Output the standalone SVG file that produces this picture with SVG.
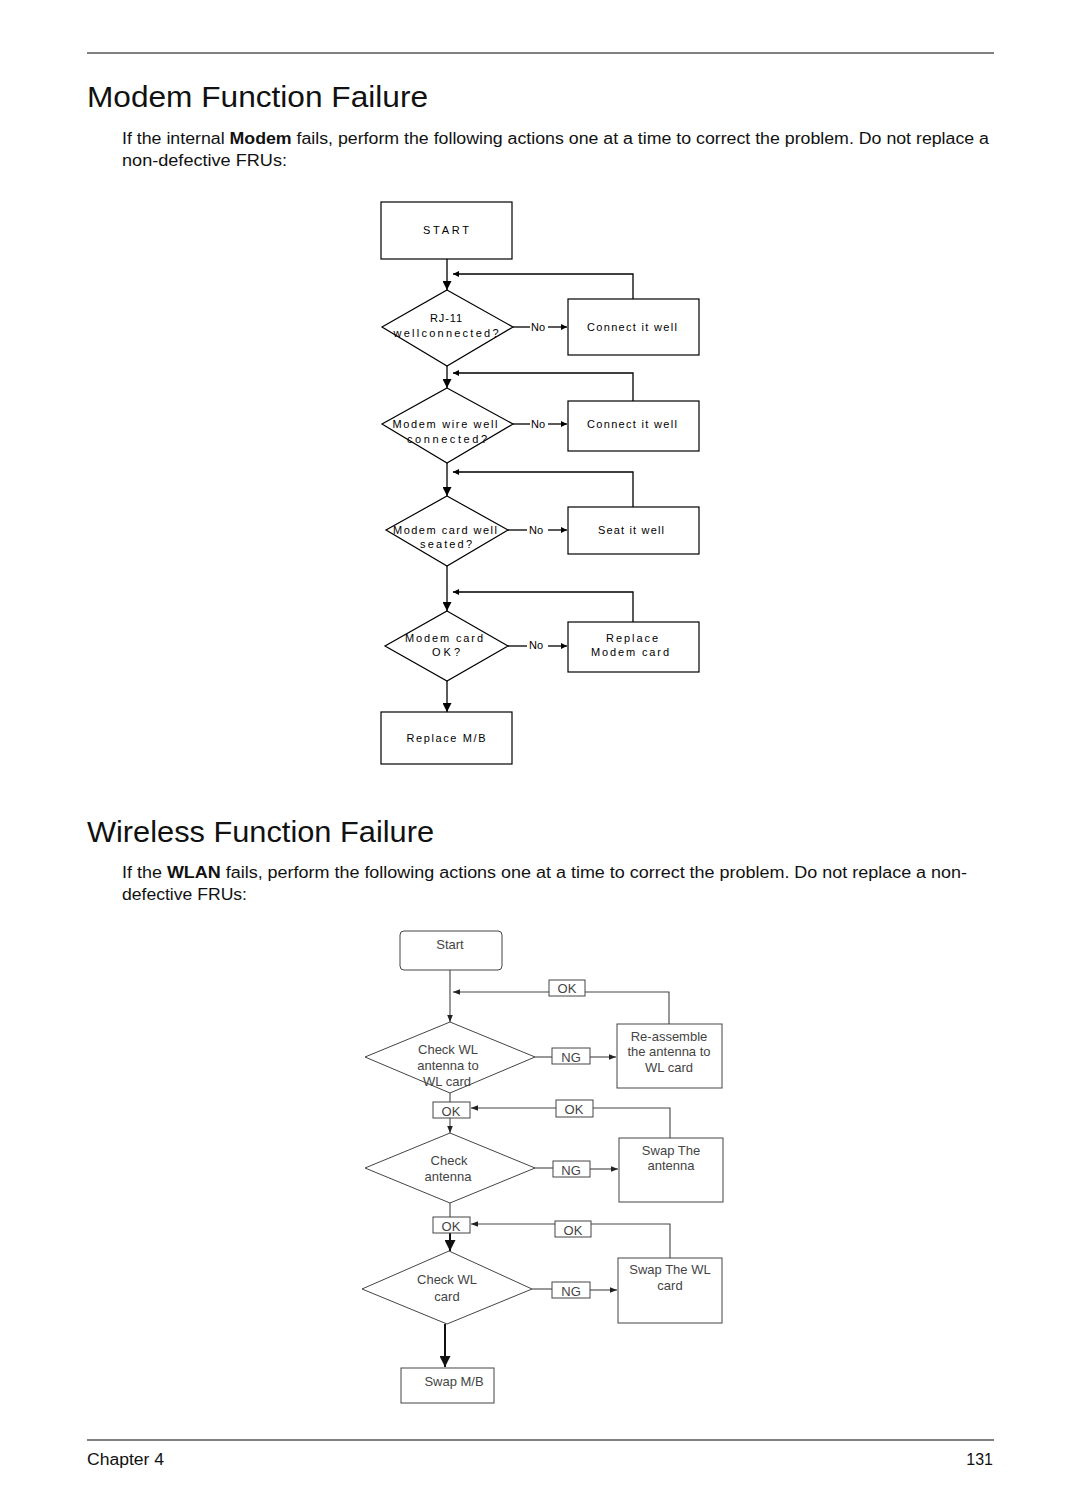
<svg xmlns="http://www.w3.org/2000/svg" width="1080" height="1512" viewBox="0 0 1080 1512">
<defs>
<style>
.rule{stroke:#808080;stroke-width:2;fill:none}
.title{font-family:"Liberation Sans",Arial,sans-serif;font-size:29px;fill:#111}
.para{font-family:"Liberation Sans",Arial,sans-serif;font-size:16px;fill:#111}
.foot{font-family:"Liberation Sans",Arial,sans-serif;font-size:16px;fill:#111}
.m-shape{fill:#fff;stroke:#000;stroke-width:1.2}
.m-line{fill:none;stroke:#000;stroke-width:1.3}
.m-txt{font-family:"Liberation Sans",Arial,sans-serif;font-size:11px;fill:#000;text-anchor:middle}
.w-shape{fill:#fff;stroke:#444;stroke-width:1}
.w-line{fill:none;stroke:#444;stroke-width:1.1}
.w-bold{fill:none;stroke:#111;stroke-width:2}
.w-txt{font-family:"Liberation Sans",Arial,sans-serif;font-size:13px;fill:#444;text-anchor:middle}
</style>
<marker id="mDown" markerUnits="userSpaceOnUse" markerWidth="9" markerHeight="9" viewBox="0 0 10 10" refX="10" refY="5" orient="auto"><path d="M0,0 L10,5 L0,10 z" fill="#000"/></marker>
<marker id="mSmall" markerUnits="userSpaceOnUse" markerWidth="6" markerHeight="6" viewBox="0 0 10 10" refX="10" refY="5" orient="auto"><path d="M0,0 L10,5 L0,10 z" fill="#000"/></marker>
<marker id="wSmall" markerUnits="userSpaceOnUse" markerWidth="7" markerHeight="7" viewBox="0 0 10 10" refX="10" refY="5" orient="auto"><path d="M0,1 L10,5 L0,9 z" fill="#222"/></marker>
<marker id="wBig" markerUnits="userSpaceOnUse" markerWidth="11" markerHeight="11" viewBox="0 0 10 10" refX="10" refY="5" orient="auto"><path d="M0,0 L10,5 L0,10 z" fill="#111"/></marker>
</defs>
<rect width="1080" height="1512" fill="#fff"/>

<g id="page">
<line class="rule" x1="87" y1="53" x2="994" y2="53"/>
<text class="title" x="87" y="107" textLength="341" lengthAdjust="spacingAndGlyphs">Modem Function Failure</text>
<text class="para" x="122" y="144" textLength="867" lengthAdjust="spacingAndGlyphs">If the internal <tspan font-weight="bold">Modem</tspan> fails, perform the following actions one at a time to correct the problem. Do not replace a</text>
<text class="para" x="122" y="166" textLength="165" lengthAdjust="spacingAndGlyphs">non-defective FRUs:</text>
<text class="title" x="87" y="842" textLength="347" lengthAdjust="spacingAndGlyphs">Wireless Function Failure</text>
<text class="para" x="122" y="878" textLength="845" lengthAdjust="spacingAndGlyphs">If the <tspan font-weight="bold">WLAN</tspan> fails, perform the following actions one at a time to correct the problem. Do not replace a non-</text>
<text class="para" x="122" y="900" textLength="125" lengthAdjust="spacingAndGlyphs">defective FRUs:</text>
<line class="rule" x1="87" y1="1440" x2="994" y2="1440"/>
<text class="foot" x="87" y="1465" textLength="77" lengthAdjust="spacingAndGlyphs">Chapter 4</text>
<text class="foot" x="993" y="1465" text-anchor="end">131</text>
</g>

<g id="modem-connectors">
<line class="m-line" x1="447" y1="259" x2="447" y2="290" marker-end="url(#mDown)"/>
<polyline class="m-line" points="633,299 633,274 453,274" marker-end="url(#mSmall)"/>
<line class="m-line" x1="513" y1="327" x2="530" y2="327"/>
<line class="m-line" x1="548" y1="327" x2="567" y2="327" marker-end="url(#mSmall)"/>
<line class="m-line" x1="447" y1="366" x2="447" y2="388" marker-end="url(#mDown)"/>
<polyline class="m-line" points="633,401 633,373 453,373" marker-end="url(#mSmall)"/>
<line class="m-line" x1="513" y1="424" x2="530" y2="424"/>
<line class="m-line" x1="548" y1="424" x2="567" y2="424" marker-end="url(#mSmall)"/>
<line class="m-line" x1="447" y1="463" x2="447" y2="496" marker-end="url(#mDown)"/>
<polyline class="m-line" points="633,507 633,472 453,472" marker-end="url(#mSmall)"/>
<line class="m-line" x1="508" y1="530" x2="527" y2="530"/>
<line class="m-line" x1="548" y1="530" x2="567" y2="530" marker-end="url(#mSmall)"/>
<line class="m-line" x1="447" y1="566" x2="447" y2="611" marker-end="url(#mDown)"/>
<polyline class="m-line" points="633,622 633,592 453,592" marker-end="url(#mSmall)"/>
<line class="m-line" x1="508" y1="646" x2="527" y2="646"/>
<line class="m-line" x1="548" y1="646" x2="567" y2="646" marker-end="url(#mSmall)"/>
<line class="m-line" x1="447" y1="681" x2="447" y2="712" marker-end="url(#mDown)"/>
<text class="m-txt" x="538" y="331">No</text>
<text class="m-txt" x="538" y="428">No</text>
<text class="m-txt" x="536" y="534">No</text>
<text class="m-txt" x="536" y="649">No</text>
</g>

<g id="m-start"><rect class="m-shape" x="381" y="202" width="131" height="57"/><text class="m-txt" x="446" y="234" textLength="46" lengthAdjust="spacing">START</text></g>
<g id="m-d1"><polygon class="m-shape" points="447,290 513,327 447,366 382,327"/><text class="m-txt" x="446" y="322" textLength="32" lengthAdjust="spacing">RJ-11</text><text class="m-txt" x="446" y="337" textLength="105" lengthAdjust="spacing">wellconnected?</text></g>
<g id="m-b1"><rect class="m-shape" x="568" y="299" width="131" height="56"/><text class="m-txt" x="632" y="331" textLength="90" lengthAdjust="spacing">Connect it well</text></g>
<g id="m-d2"><polygon class="m-shape" points="447,388 513,424 447,463 382,424"/><text class="m-txt" x="445" y="428" textLength="105" lengthAdjust="spacing">Modem wire well</text><text class="m-txt" x="447" y="443" textLength="80" lengthAdjust="spacing">connected?</text></g>
<g id="m-b2"><rect class="m-shape" x="568" y="401" width="131" height="50"/><text class="m-txt" x="632" y="428" textLength="90" lengthAdjust="spacing">Connect it well</text></g>
<g id="m-d3"><polygon class="m-shape" points="447,496 508,530 447,566 386,530"/><text class="m-txt" x="445" y="534" textLength="104" lengthAdjust="spacing">Modem card well</text><text class="m-txt" x="446" y="548" textLength="52" lengthAdjust="spacing">seated?</text></g>
<g id="m-b3"><rect class="m-shape" x="568" y="507" width="131" height="47"/><text class="m-txt" x="631" y="534" textLength="66" lengthAdjust="spacing">Seat it well</text></g>
<g id="m-d4"><polygon class="m-shape" points="447,611 508,646 447,681 385,646"/><text class="m-txt" x="444" y="642" textLength="78" lengthAdjust="spacing">Modem card</text><text class="m-txt" x="446" y="656" textLength="28" lengthAdjust="spacing">OK?</text></g>
<g id="m-b4"><rect class="m-shape" x="568" y="622" width="131" height="50"/><text class="m-txt" x="632" y="642" textLength="52" lengthAdjust="spacing">Replace</text><text class="m-txt" x="630" y="656" textLength="78" lengthAdjust="spacing">Modem card</text></g>
<g id="m-end"><rect class="m-shape" x="381" y="712" width="131" height="52"/><text class="m-txt" x="446" y="742" textLength="79" lengthAdjust="spacing">Replace M/B</text></g>

<g id="wireless-connectors">
<line class="w-line" x1="450" y1="970" x2="450" y2="1022" marker-end="url(#wSmall)"/>
<polyline class="w-line" points="669,1024 669,992 585,992"/>
<line class="w-line" x1="549" y1="992" x2="453" y2="992" marker-end="url(#wSmall)"/>
<line class="w-line" x1="450" y1="1093" x2="450" y2="1102"/>
<line class="w-line" x1="535" y1="1057" x2="552" y2="1057"/>
<line class="w-line" x1="590" y1="1057" x2="616" y2="1057" marker-end="url(#wSmall)"/>
<line class="w-line" x1="450" y1="1118" x2="450" y2="1133" marker-end="url(#wSmall)"/>
<polyline class="w-line" points="670,1138 670,1108 593,1108"/>
<line class="w-line" x1="556" y1="1108" x2="471" y2="1108" marker-end="url(#wSmall)"/>
<line class="w-line" x1="535" y1="1168" x2="553" y2="1168"/>
<line class="w-line" x1="590" y1="1169" x2="618" y2="1169" marker-end="url(#wSmall)"/>
<line class="w-line" x1="450" y1="1203" x2="450" y2="1217"/>
<line class="w-bold" x1="450" y1="1233" x2="450" y2="1251" marker-end="url(#wBig)"/>
<polyline class="w-line" points="670,1258 670,1224 591,1224"/>
<line class="w-line" x1="555" y1="1224" x2="471" y2="1224" marker-end="url(#wSmall)"/>
<line class="w-line" x1="532" y1="1289" x2="552" y2="1289"/>
<line class="w-line" x1="590" y1="1290" x2="617" y2="1290" marker-end="url(#wSmall)"/>
<line class="w-bold" x1="445" y1="1324" x2="445" y2="1367" marker-end="url(#wBig)"/>
<g id="w-labels">
<rect class="w-shape" x="549" y="980" width="36" height="16"/><text class="w-txt" x="567" y="993">OK</text>
<rect class="w-shape" x="552" y="1048" width="38" height="16"/><text class="w-txt" x="571" y="1062">NG</text>
<rect class="w-shape" x="433" y="1102" width="37" height="16"/><text class="w-txt" x="451" y="1116">OK</text>
<rect class="w-shape" x="556" y="1100" width="37" height="17"/><text class="w-txt" x="574" y="1114">OK</text>
<rect class="w-shape" x="553" y="1161" width="37" height="16"/><text class="w-txt" x="571" y="1175">NG</text>
<rect class="w-shape" x="433" y="1217" width="37" height="16"/><text class="w-txt" x="451" y="1231">OK</text>
<rect class="w-shape" x="555" y="1221" width="36" height="16"/><text class="w-txt" x="573" y="1235">OK</text>
<rect class="w-shape" x="552" y="1282" width="38" height="16"/><text class="w-txt" x="571" y="1296">NG</text>
</g>
</g>

<g id="w-start"><rect class="w-shape" x="400" y="931" width="102" height="39" rx="4"/><text class="w-txt" x="450" y="949">Start</text></g>
<g id="w-d1"><polygon class="w-shape" points="450,1022 535,1057 450,1093 365,1057"/><text class="w-txt" x="448" y="1054">Check WL</text><text class="w-txt" x="448" y="1070">antenna to</text><text class="w-txt" x="447" y="1086">WL card</text></g>
<g id="w-b1"><rect class="w-shape" x="617" y="1024" width="105" height="64"/><text class="w-txt" x="669" y="1041">Re-assemble</text><text class="w-txt" x="669" y="1056">the antenna to</text><text class="w-txt" x="669" y="1072">WL card</text></g>
<g id="w-d2"><polygon class="w-shape" points="450,1133 535,1168 450,1203 365,1168"/><text class="w-txt" x="449" y="1165">Check</text><text class="w-txt" x="448" y="1181">antenna</text></g>
<g id="w-b2"><rect class="w-shape" x="619" y="1138" width="104" height="64"/><text class="w-txt" x="671" y="1155">Swap The</text><text class="w-txt" x="671" y="1170">antenna</text></g>
<g id="w-d3"><polygon class="w-shape" points="449,1251 532,1289 447,1324 362,1289"/><text class="w-txt" x="447" y="1284">Check WL</text><text class="w-txt" x="447" y="1301">card</text></g>
<g id="w-b3"><rect class="w-shape" x="618" y="1258" width="104" height="65"/><text class="w-txt" x="670" y="1274">Swap The WL</text><text class="w-txt" x="670" y="1290">card</text></g>
<g id="w-end"><rect class="w-shape" x="401" y="1368" width="93" height="35"/><text class="w-txt" x="454" y="1386">Swap M/B</text></g>
</svg>
